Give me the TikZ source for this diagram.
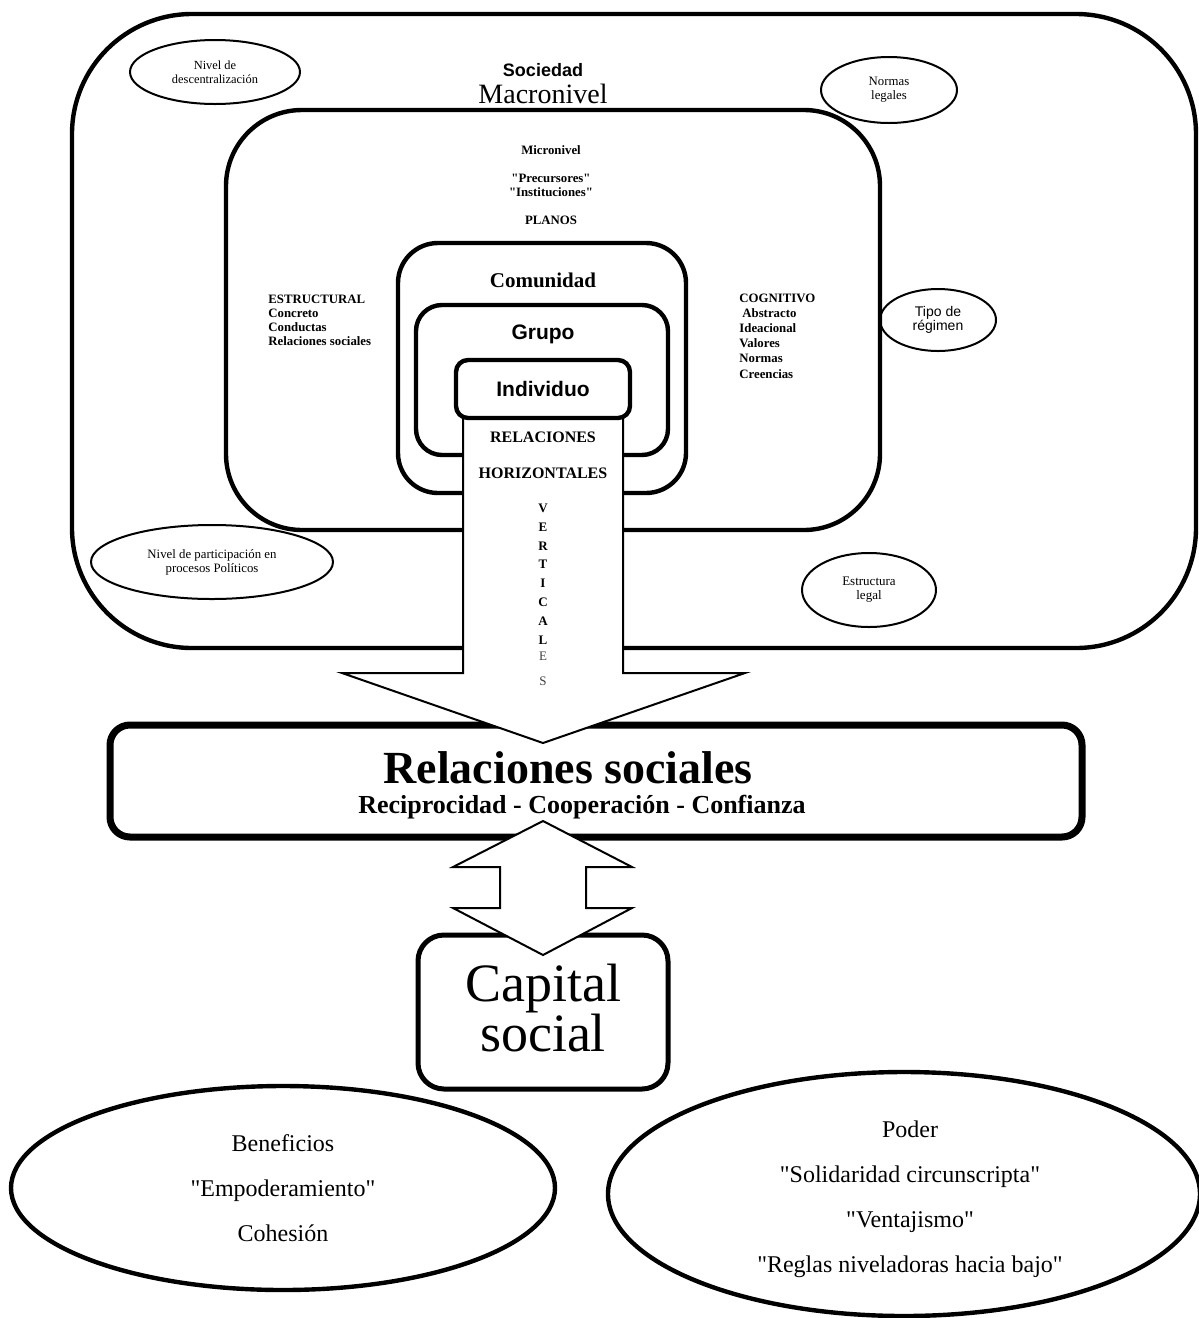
\documentclass[tikz,border=0pt]{standalone}
\usepackage{fontspec}
\setmainfont{Liberation Serif}[Ligatures=TeXOff]
\setsansfont{Liberation Sans}
\usetikzlibrary{shapes.geometric}
\newcommand{\dqt}{\symbol{34}}
\begin{document}
\begin{tikzpicture}[x=0.5pt,y=-0.5pt,
  rbox/.style={draw, line width=2.2pt, inner sep=0pt},
  sell/.style={draw, ellipse, line width=1pt, inner sep=0pt, align=center},
  bell/.style={draw, ellipse, line width=2.2pt, inner sep=0pt},
  arrfill/.style={fill=white},
  arrline/.style={draw, line width=1pt, line join=miter},
  txt/.style={inner sep=0pt, align=center},
]
\useasboundingbox (0,0) rectangle (1199,1318);

% nested boxes
\node[rbox, rounded corners=60pt, minimum width=562pt, minimum height=317pt] (soc) at (634,331) {};
\node[rbox, rounded corners=38pt, minimum width=327pt, minimum height=210pt] (mic) at (553,320) {};
\node[rbox, rounded corners=20pt, minimum width=144pt, minimum height=125pt] (com) at (542,368) {};
\node[rbox, rounded corners=13pt, minimum width=126pt, minimum height=75pt] (gru) at (542,380) {};

% small ellipses
\node[sell, minimum width=85pt, minimum height=32pt, font=\fontsize{6.2}{7}\selectfont] (desc) at (215,72) {Nivel de\\descentralización};
\node[sell, minimum width=68pt, minimum height=33pt, font=\fontsize{6.4}{7}\selectfont] (norm) at (889,90) {Normas\\legales};
\node[sell, minimum width=58pt, minimum height=31pt, font=\sffamily\fontsize{7}{7}\selectfont] (tipo) at (938,320) {Tipo de\\régimen};
\node[sell, minimum width=121pt, minimum height=37pt, font=\fontsize{6.4}{7}\selectfont] (part) at (212,562) {Nivel de participación en\\procesos Políticos};
\node[sell, minimum width=67pt, minimum height=37pt, font=\fontsize{6.5}{7}\selectfont] (estr) at (869,590) {Estructura\\legal};

% texts in outer boxes
\node[txt, font=\sffamily\bfseries\fontsize{9}{9}\selectfont] (tsoc) at (543,70) {Sociedad};
\node[txt, font=\fontsize{14}{14}\selectfont] (tmac) at (543,94) {Macronivel};
\node[txt, font=\bfseries\fontsize{6.4}{7}\selectfont] (tmic) at (551,150) {Micronivel};
\node[txt, font=\bfseries\fontsize{6.4}{7}\selectfont] (tpre) at (551,185) {\dqt Precursores\dqt\\\dqt Instituciones\dqt};
\node[txt, font=\bfseries\fontsize{6.4}{7}\selectfont] (tpla) at (551,220) {PLANOS};
\node[txt, anchor=west, align=left, font=\bfseries\fontsize{6.4}{7}\selectfont] (testr) at (268,320) {ESTRUCTURAL\\Concreto\\Conductas\\Relaciones sociales};
\node[txt, anchor=west, align=left, font=\bfseries\fontsize{6.4}{7.6}\selectfont] (tcog) at (739,336) {COGNITIVO\\\hspace{1.5pt}Abstracto\\Ideacional\\Valores\\Normas\\Creencias};
\node[txt, font=\bfseries\fontsize{10.5}{10.5}\selectfont] (tcom) at (543,280) {Comunidad};
\node[txt, font=\sffamily\bfseries\fontsize{10.5}{10.5}\selectfont] (tgru) at (543,334) {Grupo};

% big down arrow
\coordinate (a1) at (463,418);
\coordinate (a2) at (463,673);
\coordinate (a3) at (342,673);
\coordinate (a4) at (543,743);
\coordinate (a5) at (745,673);
\coordinate (a6) at (623,673);
\coordinate (a7) at (623,418);

% Relaciones sociales box
\node[draw, line width=3.5pt, rounded corners=10pt, minimum width=486pt, minimum height=56pt, inner sep=0pt] (rel) at (596,781) {};

\fill[arrfill] (a1) -- (a2) -- (a3) -- (a4) -- (a5) -- (a6) -- (a7) -- cycle;
\draw[arrline] (a1) -- (a2) -- (a3) -- (a4) -- (a5) -- (a6) -- (a7);

% Individuo box on top
\node[rbox, fill=white, rounded corners=6pt, minimum width=87pt, minimum height=29pt, font=\sffamily\bfseries\fontsize{10.5}{10.5}\selectfont] (ind) at (543,389) {Individuo};

\node[txt, font=\bfseries\fontsize{8}{8}\selectfont] (trel) at (543,437) {RELACIONES};
\node[txt, font=\bfseries\fontsize{8}{8}\selectfont] (thor) at (543,473) {HORIZONTALES};
\foreach \l [count=\i from 0] in {V,E,R,T,I,C,A,L}
  \node[txt, font=\bfseries\fontsize{6.5}{6.5}\selectfont] (v\i) at (543,508+18.9*\i) {\l};
\node[txt, text=black!75, font=\fontsize{6.5}{6.5}\selectfont] (v8) at (543,656) {E};
\node[txt, text=black!75, font=\fontsize{6.5}{6.5}\selectfont] (v9) at (543,681) {S};

\node[txt, font=\bfseries\fontsize{23}{23}\selectfont] (trs) at (568,768) {Relaciones sociales};
\node[txt, font=\bfseries\fontsize{13}{13}\selectfont] (trc) at (582,807) {Reciprocidad - Cooperación - Confianza};

% Capital social
\node[draw, line width=2.5pt, rounded corners=13pt, minimum width=125pt, minimum height=77pt, inner sep=0pt] (cap) at (543,1012) {};
\node[txt, font=\fontsize{27}{25}\selectfont] (tcap) at (543,1008) {Capital\\social};

% double arrow
\coordinate (d1) at (543,821);
\coordinate (d2) at (632,867);
\coordinate (d3) at (586,867);
\coordinate (d4) at (586,908);
\coordinate (d5) at (632,908);
\coordinate (d6) at (543,955);
\coordinate (d7) at (453,908);
\coordinate (d8) at (500,908);
\coordinate (d9) at (500,867);
\coordinate (d10) at (453,867);
\filldraw[arrline, fill=white] (d1) -- (d2) -- (d3) -- (d4) -- (d5) -- (d6) -- (d7) -- (d8) -- (d9) -- (d10) -- cycle;

% bottom ellipses
\node[bell, minimum width=272pt, minimum height=102pt] (ben) at (283,1188) {};
\node[txt, font=\fontsize{12}{22.5}\selectfont] (tben) at (283,1188) {Beneficios\\\dqt Empoderamiento\dqt\\Cohesión};
\node[bell, minimum width=296pt, minimum height=122pt] (pod) at (904,1194) {};
\node[txt, font=\fontsize{12}{22.5}\selectfont] (tpod) at (910,1199) {Poder\\\dqt Solidaridad circunscripta\dqt\\\dqt Ventajismo\dqt\\\dqt Reglas niveladoras hacia bajo\dqt};
\end{tikzpicture}
\end{document}
